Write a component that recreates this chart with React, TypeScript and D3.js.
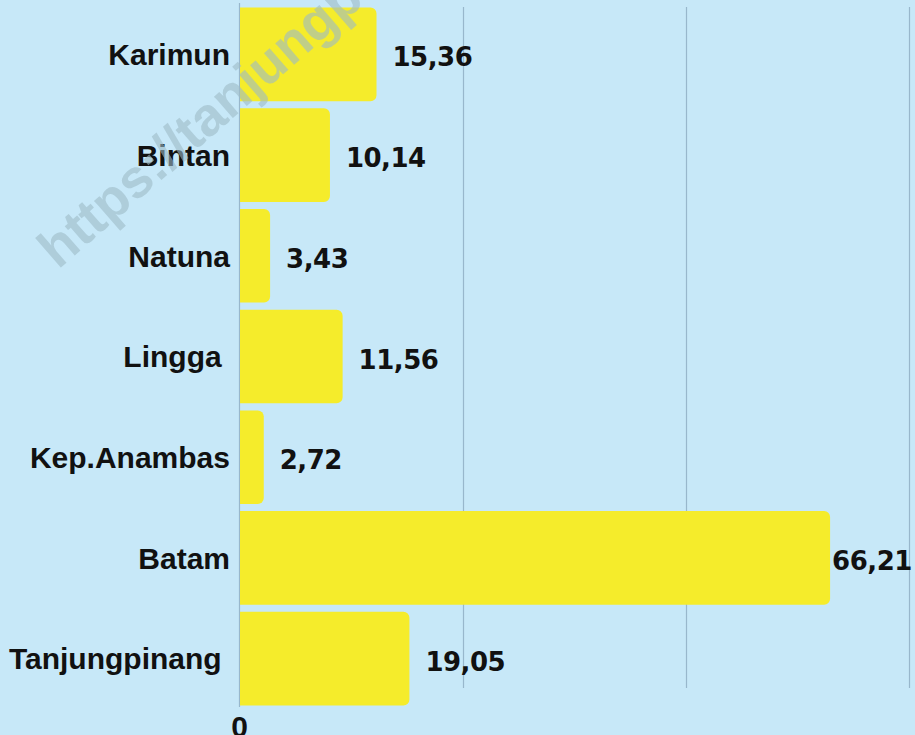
import React from "react";
import * as d3 from "d3";

const categories = ["Karimun", "Bintan", "Natuna", "Lingga ", "Kep.Anambas", "Batam", "Tanjungpinang "];
const values = [15.36, 10.14, 3.43, 11.56, 2.72, 66.21, 19.05];
const valueLabels = ["15,36", "10,14", "3,43", "11,56", "2,72", "66,21", "19,05"];
const gridTicks = [25, 50, 75];
const axisTickLabels = ["0"];
const watermark = "https://tanjungpinang.tribunnews.com";

const W = 915;
const H = 735;

export default function App() {
  const x = d3.scaleLinear().domain([0, 75]).range([239.5, 908.5]);
  const y = d3
    .scaleBand<string>()
    .domain(categories)
    .range([4, 709])
    .paddingInner(0.07)
    .paddingOuter(0.035);
  const bw = y.bandwidth();
  const r = 6;

  const barPath = (v: number, top: number) => {
    const x0 = x(0) + 0.5;
    const x1 = x(v);
    const rr = Math.min(r, (x1 - x0) / 2);
    const p = d3.path();
    p.moveTo(x0, top);
    p.lineTo(x1 - rr, top);
    p.arcTo(x1, top, x1, top + rr, rr);
    p.lineTo(x1, top + bw - rr);
    p.arcTo(x1, top + bw, x1 - rr, top + bw, rr);
    p.lineTo(x0, top + bw);
    p.closePath();
    return p.toString();
  };

  return (
    <svg
      width={W}
      height={H}
      style={{ position: "fixed", top: 0, left: 0, display: "block" }}
    >
      <rect x={0} y={0} width={W} height={H} fill="#c7e8f8" />
      {gridTicks.map((t) => (
        <line
          key={t}
          x1={Math.round(x(t)) + 0.5}
          x2={Math.round(x(t)) + 0.5}
          y1={7}
          y2={688}
          stroke="#98b7cc"
          strokeWidth={1.2}
        />
      ))}
      <line x1={x(0)} x2={x(0)} y1={3} y2={707} stroke="#98b7cc" strokeWidth={1.2} />
      {categories.map((c, i) => (
        <path key={c} d={barPath(values[i], y(c) as number)} fill="#f5ec2b" />
      ))}
      {categories.map((c) => (
        <text
          key={"l" + c}
          x={230}
          y={(y(c) as number) + bw / 2}
          dy="0.36em"
          textAnchor="end"
          fontFamily="'Liberation Sans', Arial, sans-serif"
          fontWeight={700}
          fontSize={30}
          fill="#111"
          style={{ whiteSpace: "pre" }}
        >
          {c}
        </text>
      ))}
      {categories.map((c, i) => {
        const xe = x(values[i]);
        const fits = xe + 16 + 80 < W;
        return (
          <text
            key={"v" + c}
            x={fits ? xe + 16 : xe + 2}
            y={(y(c) as number) + bw / 2 + 12}
            textAnchor="start"
            fontFamily="'DejaVu Sans', sans-serif"
            fontWeight={700}
            fontSize={26}
            letterSpacing={-0.5}
            fill="#111"
          >
            {valueLabels[i]}
          </text>
        );
      })}
      {axisTickLabels.map((t) => (
        <text
          key={t}
          x={x(0)}
          y={737}
          textAnchor="middle"
          fontFamily="'Liberation Sans', Arial, sans-serif"
          fontWeight={700}
          fontSize={30}
          fill="#111"
        >
          {t}
        </text>
      ))}
      <text
        x={0}
        y={0}
        transform="translate(58,270) rotate(-41)"
        fontFamily="'Liberation Sans', Arial, sans-serif"
        fontWeight={700}
        fontSize={54}
        fill="#9dbac6"
        fillOpacity={0.6}
      >
        {watermark}
      </text>
    </svg>
  );
}
